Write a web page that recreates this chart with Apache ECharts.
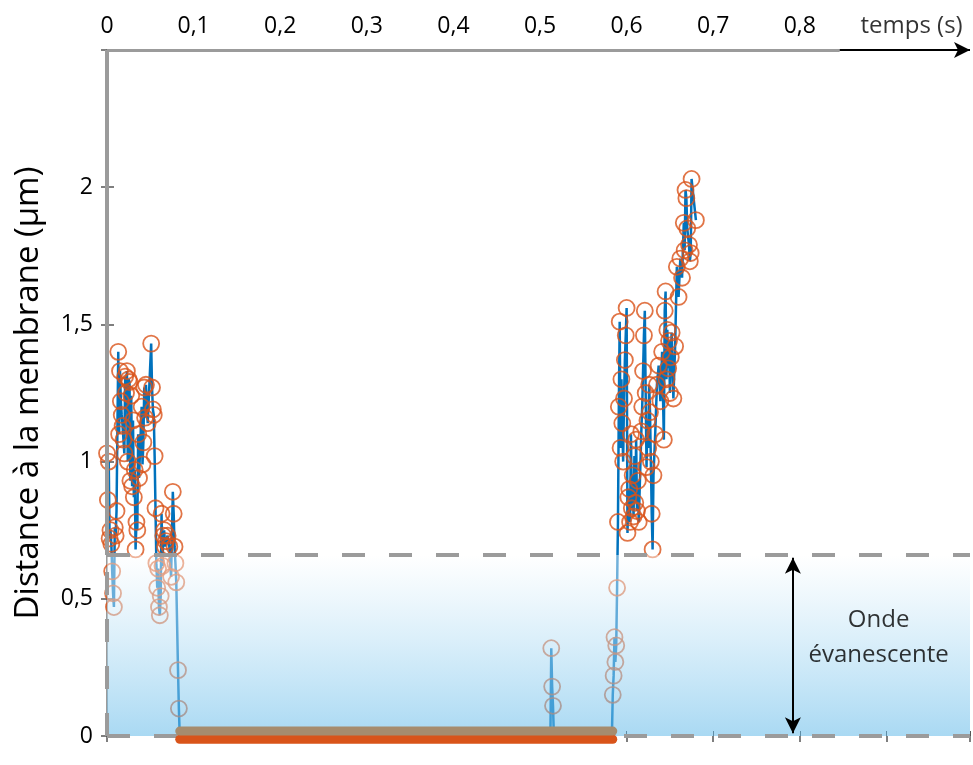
<!DOCTYPE html>
<html><head><meta charset="utf-8">
<script src="https://cdn.jsdelivr.net/npm/echarts@6/dist/echarts.min.js"></script>
<style>html,body{margin:0;padding:0;background:#fff}#c{width:973px;height:765px}</style>
</head><body><div id="c"></div>
<script>
const xTickLabels = ['0','0,1','0,2','0,3','0,4','0,5','0,6','0,7','0,8'];
const yTickLabels = ['0','0,5','1','1,5','2'];
const xAxisTitle = 'temps (s)';
const yAxisTitle = 'Distance à la membrane (µm)';
const zoneLabel = 'Onde\névanescente';
const evanescentDepth = 0.66;
const attachedSpan = [0.084, 0.584];
const trackLeft = [[0.000,1.03],[0.001,0.86],[0.002,1.00],[0.003,0.72],[0.004,0.75],[0.005,0.70],[0.006,0.60],[0.007,0.52],[0.008,0.47],[0.009,0.76],[0.010,0.73],[0.011,0.82],[0.013,1.40],[0.014,1.10],[0.015,1.33],[0.016,1.22],[0.017,1.17],[0.018,1.13],[0.019,1.08],[0.020,1.03],[0.021,1.31],[0.022,1.25],[0.023,1.33],[0.024,1.00],[0.025,1.30],[0.026,1.29],[0.027,0.93],[0.028,1.24],[0.029,0.91],[0.030,1.15],[0.031,0.87],[0.032,0.97],[0.033,0.68],[0.034,0.78],[0.035,0.75],[0.036,1.10],[0.037,0.94],[0.040,1.20],[0.041,0.99],[0.042,1.07],[0.043,1.27],[0.044,1.16],[0.045,1.28],[0.047,1.14],[0.051,1.43],[0.052,1.27],[0.053,1.19],[0.054,1.17],[0.055,1.02],[0.056,0.83],[0.057,0.63],[0.058,0.54],[0.059,0.61],[0.060,0.47],[0.061,0.44],[0.062,0.51],[0.063,0.81],[0.064,0.62],[0.065,0.73],[0.066,0.75],[0.067,0.69],[0.068,0.71],[0.070,0.73],[0.072,0.69],[0.074,0.58],[0.076,0.89],[0.077,0.81],[0.078,0.69],[0.079,0.63],[0.080,0.56],[0.082,0.24],[0.083,0.10],[0.084,0]];
const trackMid = [[0.512,0],[0.513,0.32],[0.514,0.18],[0.515,0.11],[0.516,0],[0.583,0]];
const trackRight = [[0.584,0.15],[0.585,0.22],[0.586,0.36],[0.587,0.27],[0.588,0.33],[0.589,0.54],[0.590,0.78],[0.591,1.20],[0.592,1.51],[0.593,1.05],[0.594,1.30],[0.595,1.14],[0.596,1.00],[0.597,1.23],[0.598,1.37],[0.599,1.46],[0.600,1.56],[0.601,0.74],[0.602,0.87],[0.603,0.90],[0.604,0.78],[0.605,1.10],[0.606,0.83],[0.607,0.95],[0.608,0.80],[0.609,1.02],[0.610,0.85],[0.611,1.08],[0.612,0.82],[0.613,0.93],[0.614,0.78],[0.617,1.11],[0.618,1.20],[0.619,1.33],[0.620,1.46],[0.621,1.55],[0.622,1.25],[0.623,0.98],[0.624,1.15],[0.625,1.05],[0.626,1.28],[0.627,1.18],[0.628,1.00],[0.629,0.81],[0.630,0.68],[0.631,0.95],[0.633,1.10],[0.635,1.28],[0.637,1.35],[0.639,1.22],[0.641,1.40],[0.643,1.08],[0.644,1.55],[0.645,1.62],[0.646,1.30],[0.647,1.48],[0.648,1.34],[0.649,1.44],[0.650,1.25],[0.651,1.38],[0.652,1.47],[0.654,1.23],[0.656,1.42],[0.658,1.71],[0.660,1.60],[0.662,1.74],[0.664,1.67],[0.666,1.87],[0.667,1.77],[0.668,1.99],[0.669,1.96],[0.670,1.85],[0.672,1.79],[0.673,1.73],[0.674,1.76],[0.675,2.03],[0.680,1.88]];

const X_MAX = 0.9965, Y_MAX = 2.5;
const FONT = 'Open Sans';
const GREY = '#9b9b9b';
const track = trackLeft.concat(trackMid, trackRight);
const points = track.filter(p => p[1] > 0);
const dashed = {color: GREY, width: 4, type: [23, 24]};
const solid = {color: GREY, width: 4, type: 'solid'};

const chart = echarts.init(document.getElementById('c'), null, {renderer: 'canvas'});
function helper(z, markLine, markArea) {
  const s = {type: 'line', data: [], z: z, silent: true, animation: false};
  if (markLine) s.markLine = Object.assign({z: z, silent: true, animation: false, label: {show: false}, emphasis: {disabled: true}}, markLine);
  if (markArea) s.markArea = Object.assign({z: z, silent: true, animation: false, emphasis: {disabled: true}}, markArea);
  return s;
}
chart.setOption({
  animation: false,
  backgroundColor: '#fff',
  textStyle: {fontFamily: FONT},
  grid: {left: 107, right: 3, top: 50, bottom: 29},
  xAxis: [{
    type: 'value', position: 'top', min: 0, max: X_MAX, interval: 0.1,
    axisLine: {show: false}, splitLine: {show: false},
    axisTick: {inside: true, length: 6, lineStyle: {color: '#555', width: 1.5}},
    axisLabel: {margin: 12, fontSize: 23, color: '#000', fontFamily: FONT,
      formatter: v => { const i = Math.round(v * 10); return Math.abs(v * 10 - i) < 1e-6 && xTickLabels[i] !== undefined ? xTickLabels[i] : ''; }}
  }, {
    type: 'value', position: 'bottom', min: 0, max: X_MAX, interval: 0.1,
    axisLine: {show: false}, splitLine: {show: false}, axisLabel: {show: false},
    axisTick: {inside: true, length: 5, lineStyle: {color: '#555', width: 1}}
  }],
  yAxis: [{
    type: 'value', position: 'left', min: 0, max: Y_MAX, interval: 0.5,
    axisLine: {show: false}, splitLine: {show: false},
    axisTick: {inside: true, length: 7, lineStyle: {color: '#555', width: 1.5}},
    axisLabel: {margin: 14, fontSize: 23, color: '#000', fontFamily: FONT,
      formatter: v => { const i = Math.round(v * 2); return Math.abs(v * 2 - i) < 1e-6 && yTickLabels[i] !== undefined ? yTickLabels[i] : ''; }},
    name: yAxisTitle, nameLocation: 'middle', nameGap: 62,
    nameTextStyle: {fontSize: 33, color: '#000', fontFamily: FONT}
  }, {
    type: 'value', position: 'right', min: 0, max: Y_MAX, interval: 0.5,
    axisLine: {show: true, lineStyle: {color: GREY, width: 2}}, splitLine: {show: false},
    axisTick: {inside: true, length: 6, lineStyle: {color: '#555', width: 1.5}},
    axisLabel: {show: false}
  }],
  series: [
    {type: 'line', data: track, showSymbol: false, z: 2, clip: false,
     lineStyle: {color: '#0072BD', width: 2.5}, itemStyle: {color: '#0072BD'}},
    {type: 'scatter', data: points, z: 3, symbol: 'circle', symbolSize: 16,
     itemStyle: {color: 'rgba(0,0,0,0)', borderColor: '#D95319', borderWidth: 1.8}},
    helper(4, null, {
      itemStyle: {color: new echarts.graphic.LinearGradient(0, 0, 0, 1, [
        {offset: 0, color: 'rgba(255,255,255,0.45)'},
        {offset: 1, color: 'rgba(99,186,233,0.55)'}])},
      data: [[{coord: [0, evanescentDepth]}, {coord: [X_MAX, 0]}]]
    }),
    helper(5, {symbol: ['none', 'none'], data: [
      [{coord: [0, evanescentDepth], lineStyle: dashed}, {coord: [X_MAX, evanescentDepth]}],
      [{coord: [0, 0], lineStyle: dashed}, {coord: [X_MAX, 0]}],
      [{coord: [0, 0], lineStyle: dashed}, {coord: [0, evanescentDepth]}],
      [{coord: [0, evanescentDepth], lineStyle: solid}, {coord: [0, Y_MAX]}],
      [{coord: [0, Y_MAX], lineStyle: Object.assign({}, solid, {width: 3})}, {coord: [0.846, Y_MAX]}]
    ]}),
    {type: 'line', data: attachedSpan.map(t => [t, -0.012]), showSymbol: false, z: 6, clip: false,
     lineStyle: {color: '#D9541A', width: 9, cap: 'round'}},
    {type: 'line', data: attachedSpan.map(t => [t, 0.018]), showSymbol: false, z: 7, clip: false,
     lineStyle: {color: '#A68C6E', width: 9, cap: 'round'}},
    helper(8, {symbol: ['arrow', 'arrow'], symbolSize: [12, 16], data: [
      [{coord: [0.792, 0.01], lineStyle: {color: '#000', width: 2, type: 'solid'}}, {coord: [0.792, evanescentDepth - 0.01]}]
    ]}),
    helper(8, {symbol: ['none', 'arrow'], symbolSize: [12, 16], data: [
      [{coord: [0.846, Y_MAX], lineStyle: {color: '#000', width: 2, type: 'solid'}}, {coord: [X_MAX, Y_MAX]}]
    ]}),
    {type: 'scatter', data: [[0.891, 0.357]], symbolSize: 0, z: 9, silent: true, clip: false,
     label: {show: true, position: 'inside', formatter: zoneLabel, fontSize: 24, lineHeight: 35, color: '#000', fontFamily: FONT}},
    {type: 'scatter', data: [[0.929, Y_MAX]], symbolSize: 0, z: 9, silent: true, clip: false,
     label: {show: true, position: 'inside', offset: [0, -24], formatter: xAxisTitle, fontSize: 24, color: '#000', fontFamily: FONT}}
  ]
});
</script></body></html>
